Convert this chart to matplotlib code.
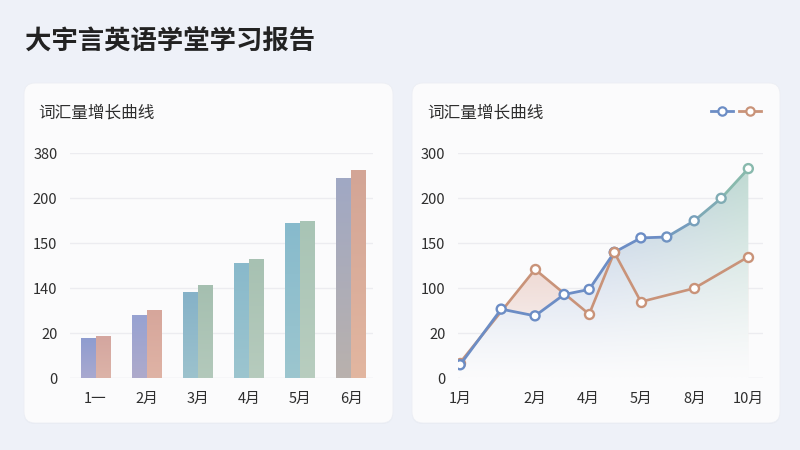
import numpy as np
import matplotlib
matplotlib.use('Agg')
import matplotlib.pyplot as plt
from matplotlib.patches import FancyBboxPatch, Polygon
from matplotlib.collections import LineCollection
from matplotlib.lines import Line2D
from matplotlib.colors import to_rgb

plt.rcParams['font.family'] = ['Noto Sans CJK SC', 'DejaVu Sans']

# 数据
titulo = '大宇言英语学堂学习报告'
subtitulo = '词汇量增长曲线'

meses_barras = ['1一', '2月', '3月', '4月', '5月', '6月']
serie_a = [18, 70, 129, 145.7, 172.5, 282]
serie_b = [19, 82, 140.7, 146.5, 175, 312]
ticks_izq = [0, 20, 140, 150, 200, 380]

# colores (arriba, abajo) de cada barra
colores_a = [('#8e9ccf', '#a9a9d0'), ('#97a2d2', '#aeaacb'), ('#86b2c8', '#9cc2cd'),
             ('#89b9cb', '#9cc5cf'), ('#87bacc', '#9cc6cf'), ('#a0a8c4', '#b9b1ad')]
colores_b = [('#d4a69f', '#dcb3a8'), ('#d6a69b', '#dfb3a5'), ('#a5bfb0', '#b3c9bb'),
             ('#a7c1b2', '#b6cbbd'), ('#a8c4b5', '#b8cdbf'), ('#d3a596', '#e2b6a0')]

x_linea = [0, 1.54, 2.81, 3.9, 4.84, 5.78, 6.78, 7.75, 8.78, 9.79, 10.81]
serie_azul = [6, 63, 51, 89, 98, 140, 156, 157, 175, 200, 266]
idx_naranja = [0, 2, 4, 5, 6, 8, 10]
serie_naranja = [7, 121, 54, 140, 76, 100, 135]
ticks_der = [0, 20, 100, 150, 200, 300]
x_ticks_der = [0, 2.81, 4.79, 6.78, 8.78, 10.81]
meses_linea = ['1月', '2月', '4月', '5月', '8月', '10月']

fondo = '#eef1f8'
tarjeta = '#fbfbfc'
azul = '#6c8dc5'
verde = '#88b9ad'
naranja = '#c99379'
texto = '#2e2e2e'


def escala(ticks):
    pos = np.arange(len(ticks), dtype=float)
    ticks = np.asarray(ticks, dtype=float)
    fwd = lambda v: np.interp(v, ticks, pos)
    inv = lambda p: np.interp(p, pos, ticks)
    return fwd, inv


def mezcla(c1, c2, t):
    c1 = np.array(to_rgb(c1))
    c2 = np.array(to_rgb(c2))
    return c1 * (1 - t) + c2 * t


def estilo_ejes(ax, ticks):
    ax.set_yscale('function', functions=escala(ticks))
    ax.set_ylim(0, ticks[-1])
    ax.set_yticks(ticks)
    ax.set_yticklabels([str(t) for t in ticks])
    for s in ax.spines.values():
        s.set_visible(False)
    ax.set_facecolor('none')
    ax.tick_params(length=0, labelsize=10.5, labelcolor=texto)
    ax.tick_params(axis='y', pad=9)
    ax.tick_params(axis='x', pad=10)
    for t in ticks:
        ax.axhline(t, color='#e4e6eb' if t == 0 else '#ececf0', lw=1, zorder=0.5)


fig = plt.figure(figsize=(8, 4.5), dpi=100)
fig.patch.set_facecolor(fondo)

# fondo en pixeles
fondo_ax = fig.add_axes([0, 0, 1, 1])
fondo_ax.set_xlim(0, 800)
fondo_ax.set_ylim(450, 0)
fondo_ax.axis('off')
for x0, x1 in [(24, 393), (412, 780)]:
    sombra = FancyBboxPatch((x0, 84), x1 - x0, 340, boxstyle='round,pad=0,rounding_size=11',
                            facecolor='#e3e7f0', edgecolor='none', alpha=0.6)
    fondo_ax.add_patch(sombra)
    caja = FancyBboxPatch((x0, 83), x1 - x0, 340, boxstyle='round,pad=0,rounding_size=11',
                          facecolor=tarjeta, edgecolor='#eceef4', lw=0.6)
    fondo_ax.add_patch(caja)

fig.text(25 / 800, 1 - 42 / 450, titulo, fontsize=19, fontweight='bold', color='#222222', va='center')
fig.text(38 / 800, 1 - 113 / 450, subtitulo, fontsize=12, color=texto, va='center')
fig.text(427 / 800, 1 - 113 / 450, subtitulo, fontsize=12, color=texto, va='center')

# ---- grafico de barras ----
ax1 = fig.add_axes([70 / 800, 1 - 378.3 / 450, 303 / 800, 225 / 450])
estilo_ejes(ax1, ticks_izq)
x = np.arange(len(meses_barras))
ancho = 0.285
ax1.set_xlim(-0.5, 5.43)
ax1.set_xticks(x)
ax1.set_xticklabels(meses_barras)

barras_a = ax1.bar(x - ancho / 2, serie_a, ancho, color='none', edgecolor='none')
barras_b = ax1.bar(x + ancho / 2, serie_b, ancho, color='none', edgecolor='none')


def a_ejes(ax, px, py):
    return ax.transAxes.inverted().transform(ax.transData.transform((px, py)))


for barras, colores in [(barras_a, colores_a), (barras_b, colores_b)]:
    for rect, (c_top, c_bot) in zip(barras, colores):
        bx = rect.get_x()
        bw = rect.get_width()
        bh = rect.get_height()
        (ax0, ay0) = a_ejes(ax1, bx, 0)
        (ax_1, ay1) = a_ejes(ax1, bx + bw, bh)
        t = np.linspace(0, 1, 64)
        grad = np.array([mezcla(c_top, c_bot, v) for v in t])[:, None, :]
        im = ax1.imshow(grad, extent=[ax0, ax_1, ay0, ay1], transform=ax1.transAxes,
                        aspect='auto', interpolation='bilinear', zorder=2)
        im.set_clip_path(rect)

# ---- grafico de lineas ----
ax2 = fig.add_axes([458 / 800, 1 - 378.3 / 450, 305 / 800, 225 / 450])
estilo_ejes(ax2, ticks_der)
ax2.set_xlim(-0.08, 11.36)
ax2.set_xticks(x_ticks_der)
ax2.set_xticklabels(meses_linea)

x_nar = [x_linea[i] for i in idx_naranja]

# relleno rosa bajo la linea naranja
poly_n = Polygon(np.column_stack([[x_nar[0]] + x_nar + [x_nar[-1]], [0] + serie_naranja + [0]]),
                 closed=True, facecolor='none', edgecolor='none')
ax2.add_patch(poly_n)
h, w = 100, 100
yy = np.linspace(1, 0, h)[:, None]
f_rosa = np.clip(yy * 1.05, 0, 1)
img_rosa = np.zeros((h, w, 3))
for k in range(3):
    img_rosa[:, :, k] = to_rgb(tarjeta)[k] * (1 - f_rosa) + to_rgb('#e3b9ad')[k] * f_rosa
im_r = ax2.imshow(img_rosa, extent=[0, 1, 0, 1], transform=ax2.transAxes, aspect='auto',
                  interpolation='bilinear', zorder=1)
im_r.set_clip_path(poly_n)

# relleno azul-verde bajo la linea azul
poly_a = Polygon(np.column_stack([[x_linea[0]] + x_linea + [x_linea[-1]], [0] + serie_azul + [0]]),
                 closed=True, facecolor='none', edgecolor='none')
ax2.add_patch(poly_a)
xx = np.linspace(0, 1, w)[None, :]
f_az = np.clip(yy ** 1.2 * 1.15, 0, 1)
t_h = np.clip((xx - 0.45) / 0.55, 0, 1)
img_az = np.zeros((h, w, 3))
for k in range(3):
    base = to_rgb('#b9c9e2')[k] * (1 - t_h) + to_rgb('#c3ddd3')[k] * t_h
    img_az[:, :, k] = to_rgb(tarjeta)[k] * (1 - f_az) + base * f_az
im_a = ax2.imshow(img_az, extent=[0, 1, 0, 1], transform=ax2.transAxes, aspect='auto',
                  interpolation='bilinear', zorder=1.1)
im_a.set_clip_path(poly_a)

# linea naranja
ax2.plot(x_nar, serie_naranja, color=naranja, lw=1.9, marker='o', ms=6.5, mfc='white',
         mec=naranja, mew=1.7, zorder=3)

# linea azul con degradado
pts = np.column_stack([x_linea, serie_azul])
segs = [pts[i:i + 2] for i in range(len(pts) - 1)]
n = len(segs)
col_seg = [mezcla(azul, verde, max(0, (i - 6) / (n - 7))) for i in range(n)]
lc = LineCollection(segs, colors=col_seg, linewidths=2.0, zorder=4, capstyle='round')
ax2.add_collection(lc)
col_pts = [mezcla(azul, verde, max(0, (i - 6.5) / (n - 6.5))) for i in range(len(pts))]
ax2.scatter(x_linea, serie_azul, s=42, facecolor='white', edgecolor=col_pts, linewidths=1.7, zorder=5)
ax2.scatter([x_nar[3]], [serie_naranja[3]], s=42, facecolor='white', edgecolor=naranja,
            linewidths=1.7, zorder=6)

h_az = Line2D([], [], color=azul, lw=2, marker='o', ms=6, mfc='white', mec=azul, mew=1.6)
h_na = Line2D([], [], color=naranja, lw=2, marker='o', ms=6, mfc='white', mec=naranja, mew=1.6)
fig.legend(handles=[h_az, h_na], labels=['', ''], ncol=2, frameon=False,
           loc='center right', bbox_to_anchor=(768 / 800, 1 - 112 / 450),
           handlelength=1.6, handletextpad=0, columnspacing=0.4, borderpad=0, fontsize=10)

fig.savefig('out.png', dpi=100, facecolor=fondo)
